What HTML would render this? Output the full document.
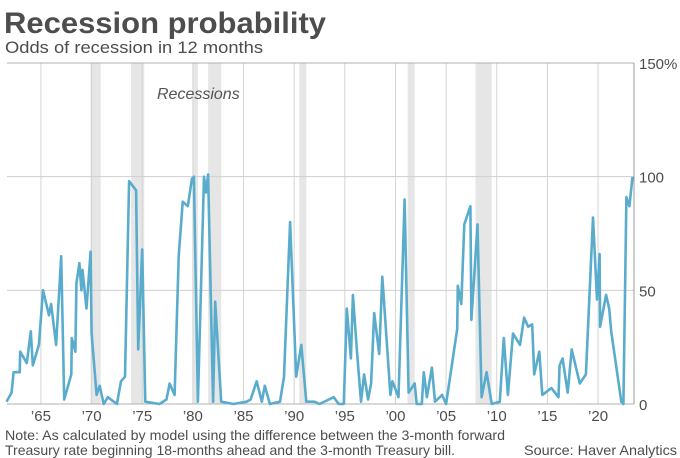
<!DOCTYPE html>
<html><head><meta charset="utf-8"><style>
body{margin:0;background:#fff;}
svg{display:block;font-family:"Liberation Sans",sans-serif;}
</style></head><body>
<svg id="chart" width="680" height="458">
<text x="4" y="33" font-size="30" font-weight="bold" fill="#4d4d4d" textLength="322" lengthAdjust="spacingAndGlyphs">Recession probability</text>
<text x="5" y="53" font-size="17" fill="#4d4d4d" textLength="258" lengthAdjust="spacingAndGlyphs">Odds of recession in 12 months</text>
<g id="bands"></g>
<g id="grid"></g>
<text x="157" y="99" font-size="16" font-style="italic" fill="#555">Recessions</text>
<g id="series"></g>
<g id="axes"></g>
<text x="5" y="440" font-size="14" fill="#4d4d4d" textLength="500" lengthAdjust="spacingAndGlyphs">Note: As calculated by model using the difference between the 3-month forward</text>
<text x="5" y="455" font-size="14" fill="#4d4d4d" textLength="450" lengthAdjust="spacingAndGlyphs">Treasury rate beginning 18-months ahead and the 3-month Treasury bill.</text>
<text x="677" y="455" font-size="14" fill="#4d4d4d" text-anchor="end" textLength="153" lengthAdjust="spacingAndGlyphs">Source: Haver Analytics</text>
</svg>
<script>
const years=[1961.6,1962.1,1962.3,1962.9,1962.95,1963.6,1964.0,1964.2,1964.8,1965.2,1965.8,1966.0,1966.5,1967.0,1967.3,1968.0,1968.05,1968.4,1968.5,1968.8,1969.0,1969.1,1969.5,1969.9,1970.0,1970.5,1970.8,1971.2,1971.6,1972.5,1972.9,1973.3,1973.7,1974.4,1974.6,1975.0,1975.3,1976.7,1977.4,1977.7,1978.2,1978.6,1979.0,1979.5,1979.9,1980.1,1980.5,1981.1,1981.3,1981.5,1982.0,1982.2,1982.8,1984.0,1985.3,1985.7,1986.3,1986.8,1987.1,1987.6,1988.6,1989.0,1989.6,1990.2,1990.7,1991.2,1992.0,1992.5,1993.9,1994.4,1994.9,1995.2,1995.6,1995.8,1996.2,1996.6,1996.9,1997.3,1997.6,1997.9,1998.4,1998.7,1999.5,1999.7,2000.3,2000.9,2001.3,2001.9,2002.1,2002.6,2002.8,2003.1,2003.6,2003.9,2004.6,2005.0,2006.1,2006.15,2006.5,2006.8,2007.4,2007.5,2008.1,2008.5,2009.0,2009.5,2010.3,2010.7,2011.1,2011.6,2012.3,2012.7,2013.1,2013.5,2013.7,2014.2,2014.5,2015.4,2016.1,2016.2,2016.5,2017.0,2017.4,2018.2,2018.8,2019.5,2019.9,2020.15,2020.2,2020.8,2021.1,2021.3,2022.3,2022.5,2022.8,2023.1,2023.4];
const probs=[1,5,14,14,23,18,32,17,26,50,39,44,26,65,2,13,29,23,53,62,50,59,42,67,31,4,8,0,3,0,10,12,98,94,24,68,1,0,2,9,4,65,89,87,99,100,1,100,93,101,1,45,1,0,1,2,10,1,8,0,1,12,80,12,26,1,1,0,3,0,0,42,20,48,23,1,13,2,9,40,22,56,4,10,3,90,5,9,0,0,14,3,16,1,4,0,33,52,44,79,87,37,79,3,14,0,1,29,4,31,26,38,34,35,13,23,4,7,3,17,20,5,24,9,13,82,46,66,34,48,42,32,1,0,91,87,100];
const recStart=[1969.9,1973.9,1980.0,1981.5,1990.5,2001.2,2007.9];
const recEnd=[1970.9,1975.2,1980.5,1982.8,1991.2,2001.9,2009.5];
const yTicks=[0,50,100,150];
const yTickLabels=['0','50','100','150%'];
const xTicks=[1965,1970,1975,1980,1985,1990,1995,2000,2005,2010,2015,2020];
const xTickLabels=["’65","’70","’75","’80","’85","’90","’95","’00","’05","’10","’15","’20"];
const L=7,R=634,T=63,B=404,x0=1961.65,x1=2023.55;
const X=y=>L+(y-x0)/(x1-x0)*(R-L);
const Y=v=>B-v/150*(B-T);
const NS='http://www.w3.org/2000/svg';
function mk(tag,attrs,parent,txt){const e=document.createElementNS(NS,tag);for(const k in attrs)e.setAttribute(k,attrs[k]);if(txt!==undefined)e.textContent=txt;document.getElementById(parent).appendChild(e);return e;}
recStart.forEach((s,i)=>{
 const r=mk('rect',{x:X(s),y:T,width:X(recEnd[i])-X(s),height:B-T,fill:'#e6e6e6'},'bands');
 
 
});
xTicks.forEach((t,i)=>{
 const l=mk('line',{x1:X(t),x2:X(t),y1:T,y2:B,stroke:'#d4d4d4','stroke-width':1},'grid');
 
 
 const tx=mk('text',{x:X(t),y:421,'font-size':15,fill:'#4d4d4d','text-anchor':'middle'},'axes',xTickLabels[i]);
 
 
});
yTicks.forEach((t,i)=>{
 const l=mk('line',{x1:L,x2:R,y1:Y(t),y2:Y(t),stroke:t===0||t===150?'#b0b0b0':'#cfcfcf','stroke-width':1},'grid');
 
 
 const tx=mk('text',{x:639,y:Y(t)+6,'font-size':15,fill:'#4d4d4d'},'axes',yTickLabels[i]);
 
 
});
const ax=mk('line',{x1:R,x2:R,y1:T,y2:B,stroke:'#999','stroke-width':1},'axes');


const d=years.map((y,i)=>(i?'L':'M')+X(y).toFixed(1)+','+Y(probs[i]).toFixed(1)).join('');
const p=mk('path',{d:d,fill:'none',stroke:'#5aaccd','stroke-width':2.6,'stroke-linejoin':'round'},'series');


</script>
</body></html>
